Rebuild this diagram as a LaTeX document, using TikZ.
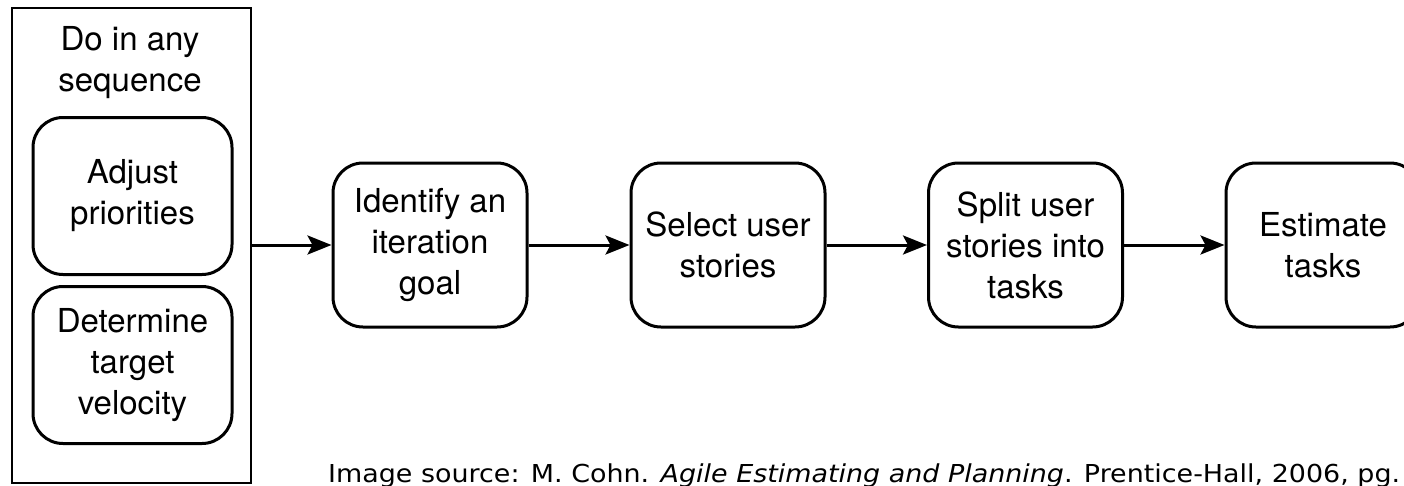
\documentclass[tikz,border=0pt]{standalone}
\usepackage{fontspec}
\setmainfont{TeX Gyre Heros}
\newfontfamily\capfont[FakeStretch=1.09]{DejaVu Sans}
\usetikzlibrary{arrows.meta}
\begin{document}
\begin{tikzpicture}[x=1pt,y=-1pt,
  stepbox/.style={draw, line width=3pt, rounded corners=30pt, minimum width=194pt, minimum height=164pt, inner sep=0pt, align=center, font=\fontsize{33}{41}\selectfont},
  innerbox/.style={draw, line width=3pt, rounded corners=30pt, minimum width=199pt, minimum height=157pt, inner sep=0pt, align=center, font=\fontsize{33}{41}\selectfont},
  arr/.style={line width=3pt, -{Stealth[length=24pt, width=19pt, inset=5pt]}},
  lbl/.style={inner sep=0pt, align=center, font=\fontsize{33}{41}\selectfont}]
\useasboundingbox (0,0) rectangle (1404,485);
\fill[white] (0,0) rectangle (1404,485);
\node[draw, line width=2.6pt, minimum width=239pt, minimum height=475pt, inner sep=0pt] (outer) at (131.5,245.5) {};
\node[lbl] (title) at (130,63) {Do in any\\sequence};
\node[innerbox] (adj) at (132.5,196) {Adjust\\priorities};
\node[innerbox] (det) at (132.5,365) {Determine\\target\\velocity};
\node[stepbox] (ident) at (430,245) {Identify an\\iteration\\goal};
\node[stepbox] (sel) at (728,245) {Select user\\stories};
\node[stepbox] (split) at (1025.5,245) {Split user\\stories into\\tasks};
\node[stepbox] (est) at (1323,245) {Estimate\\tasks};
\draw[arr] (outer.east |- ident.west) -- (ident.west);
\draw[arr] (sel.west -| ident.east) -- (sel.west);
\draw[arr] (split.west -| sel.east) -- (split.west);
\draw[arr] (est.west -| split.east) -- (est.west);
\node[anchor=base west, inner sep=0pt, font=\capfont\fontsize{24.7}{29}\selectfont] (cap) at (328,482) {Image source: M. Cohn. \textit{Agile Estimating and Planning}. Prentice-Hall, 2006, pg.};
\end{tikzpicture}
\end{document}
